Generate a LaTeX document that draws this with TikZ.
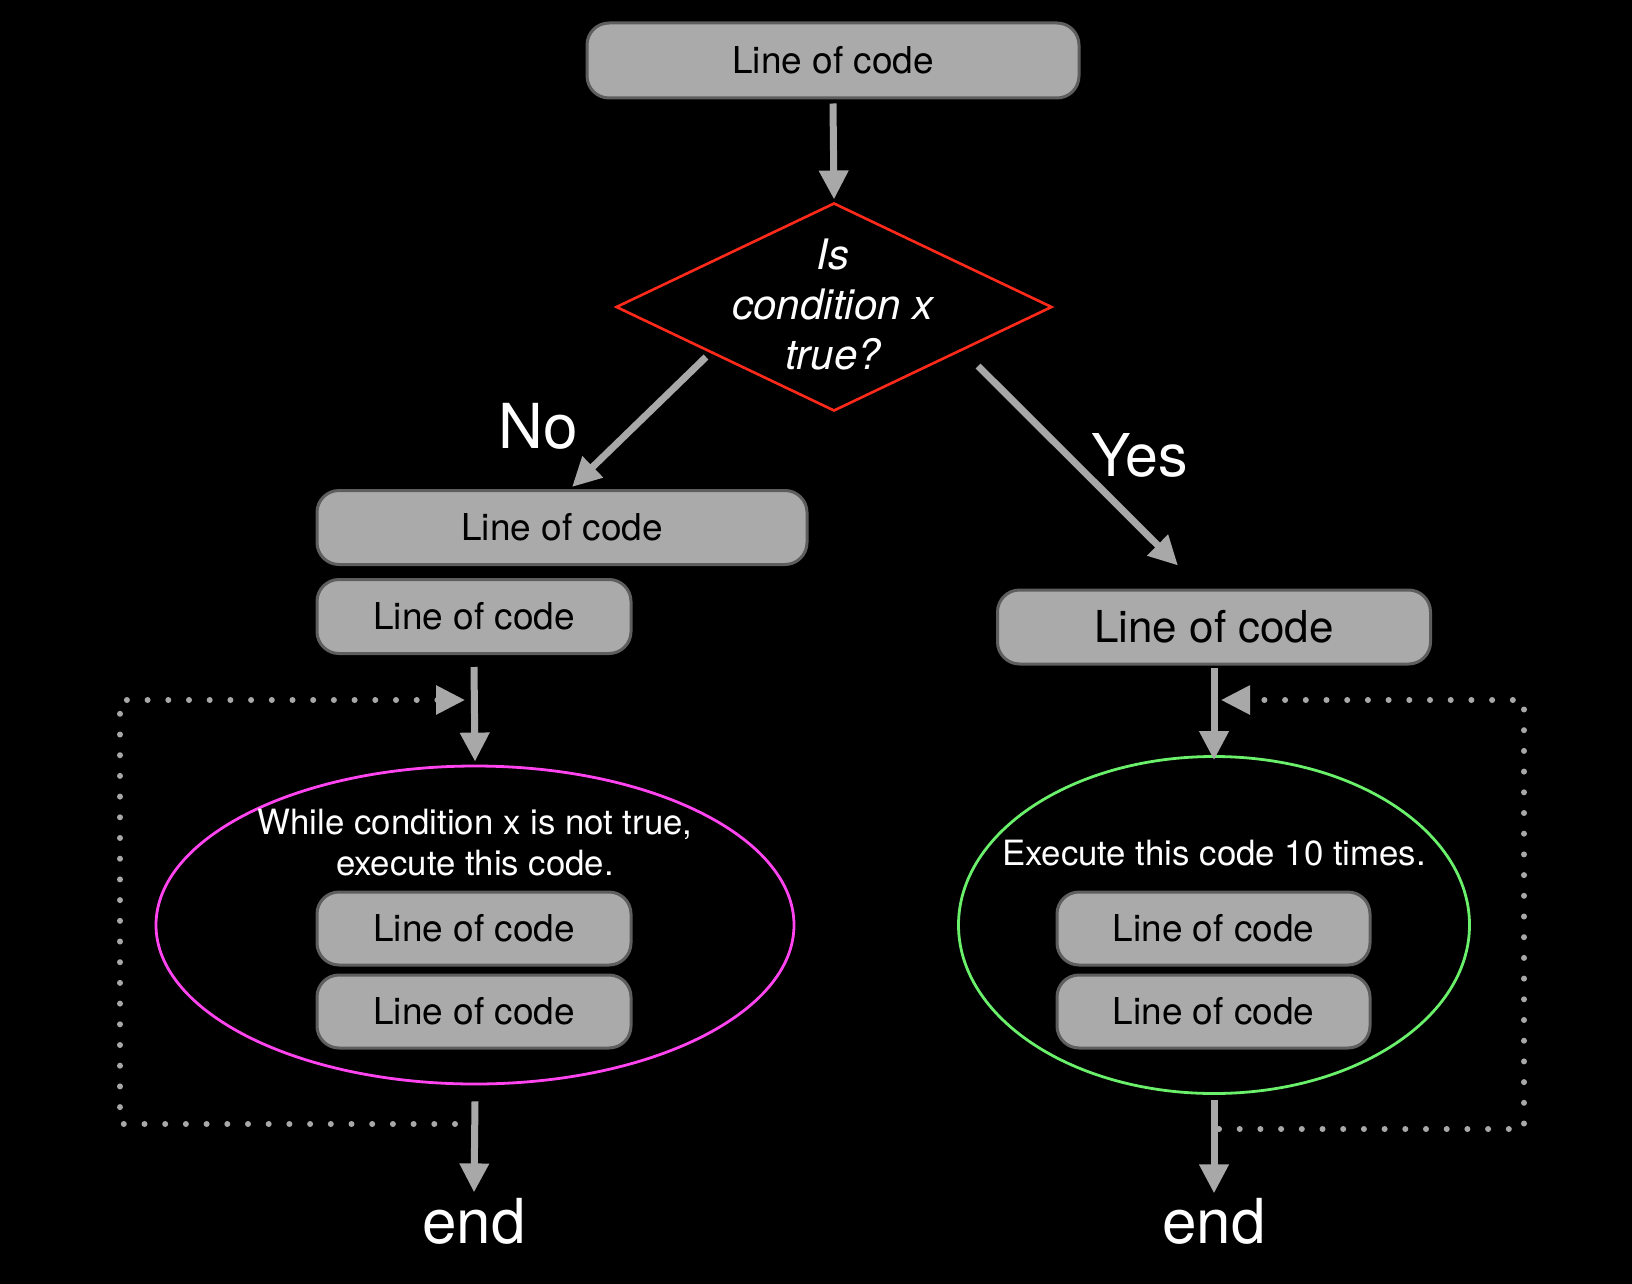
\documentclass[tikz,border=0pt]{standalone}
\usepackage{fontspec}
\setmainfont{TeX Gyre Heros}
\usetikzlibrary{shapes.geometric,arrows.meta,calc}
\definecolor{boxfill}{HTML}{AAAAAA}
\definecolor{boxedge}{HTML}{5E5E5E}
\definecolor{arrowgray}{HTML}{A8A8A8}
\definecolor{decred}{HTML}{FF2A1A}
\definecolor{loopmag}{HTML}{FF44F0}
\definecolor{loopgreen}{HTML}{6AF06A}
\tikzset{
  codebox/.style={draw=boxedge, line width=1.5pt, fill=boxfill, rounded corners=11pt,
    inner sep=0pt, text=black, font=\fontsize{18.5pt}{22pt}\selectfont},
  flowarrow/.style={draw=arrowgray, line width=3.5pt, -{Triangle[length=14.5pt,width=14pt]}, arrowgray},
  looparrow/.style={draw=arrowgray, line width=3pt, line cap=round, dash pattern=on 0pt off 10.35pt,
    -{Triangle[length=14.5pt,width=14pt]}, arrowgray},
  whitetext/.style={text=white, inner sep=0pt},
}
\begin{document}
\begin{tikzpicture}[x=0.5pt, y=-0.5pt]
\fill[black] (0,0) rectangle (1632,1284);
\useasboundingbox (0,0) rectangle (1632,1284);

% nodes
\node[codebox, minimum width=246pt, minimum height=37.5pt] (top) at (833,60.5) {Line of code};
\node[diamond, draw=decred, line width=1.3pt, minimum width=217.5pt, minimum height=103.5pt, inner sep=0pt, outer sep=0pt] (dec) at (834,307) {};
\node[whitetext, align=center, font=\fontsize{21pt}{25pt}\selectfont\itshape] (dectext) at (833,305) {Is\\condition x\\true?};

\node[whitetext, anchor=base, font=\fontsize{31pt}{36pt}\selectfont] (no) at (538,448) {No};
\node[whitetext, anchor=base, font=\fontsize{29.5pt}{36pt}\selectfont] (yes) at (1140,476) {Yes};

\node[codebox, minimum width=245pt, minimum height=37pt] (l1) at (562,527.5) {Line of code};
\node[codebox, minimum width=157pt, minimum height=37pt] (l2) at (474,616.5) {Line of code};
\node[codebox, minimum width=216.5pt, minimum height=37pt, font=\fontsize{22pt}{26pt}\selectfont] (r1) at (1214,627) {Line of code};

\node[ellipse, draw=loopmag, line width=1.4pt, minimum width=319pt, minimum height=159pt, inner sep=0pt] (lell) at (475,925) {};
\node[whitetext, align=center, font=\fontsize{17.4pt}{20.5pt}\selectfont] (ltext) at (475,843) {While condition x is not true,\\execute this code.};
\node[codebox, minimum width=157pt, minimum height=36.5pt] (l3) at (474,928.5) {Line of code};
\node[codebox, minimum width=157pt, minimum height=36.5pt] (l4) at (474,1011.5) {Line of code};

\node[ellipse, draw=loopgreen, line width=1.4pt, minimum width=255.5pt, minimum height=168.5pt, inner sep=0pt] (rell) at (1214,925) {};
\node[whitetext, anchor=base, font=\fontsize{17.4pt}{19.5pt}\selectfont] (rtext) at (1214,865) {Execute this code 10 times.};
\node[codebox, minimum width=156.5pt, minimum height=36.5pt] (r3) at (1213.5,928.5) {Line of code};
\node[codebox, minimum width=156.5pt, minimum height=36.5pt] (r4) at (1213.5,1011.5) {Line of code};

\node[whitetext, anchor=base, font=\fontsize{31pt}{36pt}\selectfont] (lend) at (474,1243) {end};
\node[whitetext, anchor=base, font=\fontsize{31pt}{36pt}\selectfont] (rend) at (1214,1243) {end};

% connectors
\draw[flowarrow] ($(top.south)+(0,4)$) -- ($(dec.north)+(0,-4)$);
\draw[flowarrow] ($(dec.center)+(-128,50)$) -- ($(l1.north)+(10,-2)$);
\draw[flowarrow] ($(dec.center)+(144,59)$) -- ($(r1.north)+(-36,-23)$);
\draw[flowarrow] ($(l2.south)+(0,12)$) -- ($(lell.north)+(0,-3)$);
\draw[flowarrow] ($(r1.south)+(0,2)$) -- ($(rell.north)+(0,5)$);
\draw[flowarrow] ($(lell.south)+(0,16)$) -- ($(lend.north)+(0,-5)$);
\draw[flowarrow] ($(rell.south)+(0,5)$) -- ($(rend.north)+(0,-4)$);

% loop-back dotted paths
\coordinate (lstart) at (455,1124);
\coordinate (lbl) at (120,1124);
\coordinate (ltl) at (120,700);
\coordinate (ltip) at (465,700);
\draw[looparrow] (lstart) -- (lbl) -- (ltl) -- (ltip);

\coordinate (rstart) at (1219,1129);
\coordinate (rbr) at (1524,1129);
\coordinate (rtr) at (1524,700);
\coordinate (rtip) at (1221,700);
\draw[looparrow] (rstart) -- (rbr) -- (rtr) -- (rtip);
\end{tikzpicture}
\end{document}
